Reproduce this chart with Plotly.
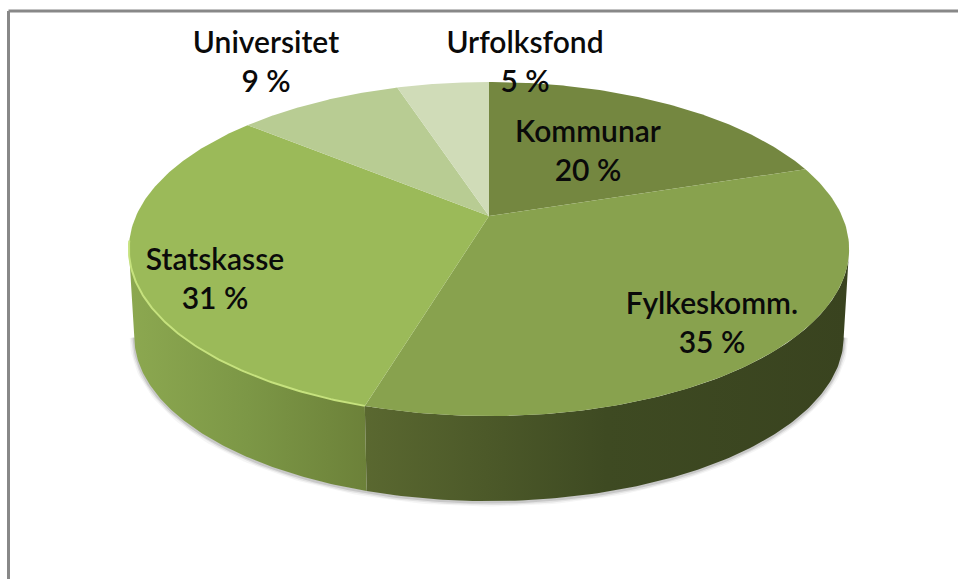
import numpy as np
import plotly.graph_objects as go

# ---- data ----
categories = ["Kommunar", "Fylkeskomm.", "Statskasse", "Universitet", "Urfolksfond"]
values = [20.0, 34.6, 31.4, 9.0, 5.0]
slice_colors = ["#748740", "#88A24E", "#9BBA59", "#B8CC93", "#D0DCB8"]
label_x = [588, 712, 215, 266, 525]
label_y = [134, 306, 262, 45, 45]

# ---- pie projection (screen pixels) ----
CX, CY = 489, 216
A, B, K = 160.5, 353.0, 0.198
SCALE_BOTTOM, CY_BOTTOM = 0.985, 304
LINE_GAP = 39


def project(theta, cy=CY, s=1.0):
    u, v = np.sin(theta), np.cos(theta)
    w = 1 + K * v
    return CX + s * B * u / w, cy - s * A * v / w


def rim(t0, t1, n=120, **kw):
    return project(np.linspace(t0, t1, n), **kw)


def wall(t0, t1, stops, name):
    xt, yt = rim(t0, t1)
    xb, yb = rim(t0, t1, cy=CY_BOTTOM, s=SCALE_BOTTOM)
    return go.Scatter(
        x=np.r_[xt, xb[::-1]], y=np.r_[yt, yb[::-1]],
        mode="lines", line=dict(width=0), fill="toself", name=name,
        fillcolor=stops[0][1],
        fillgradient=dict(type="horizontal", colorscale=stops),
        hoverinfo="skip",
    )


fracs = np.cumsum([0] + values) / sum(values)
angles = 2 * np.pi * fracs
side_l = 2 * np.pi - np.arccos(-K)
side_r = np.arccos(-K)
split = angles[2]

fig = go.Figure()

# soft shadow below the body
tt = np.linspace(side_r, side_l, 160)
for width, alpha in [(9, 0.05), (6, 0.09), (3, 0.16)]:
    xs, ys = project(tt, cy=CY_BOTTOM + 1, s=SCALE_BOTTOM)
    fig.add_trace(go.Scatter(x=xs, y=ys, mode="lines", hoverinfo="skip",
                             line=dict(color=f"rgba(60,60,60,{alpha})", width=width)))

# side walls
fig.add_trace(wall(split, side_l, [[0, "#8CA850"], [0.5, "#7C9746"], [1, "#6C8139"]], "wall-left"))
fig.add_trace(wall(side_r, split, [[0, "#5A6830"], [0.5, "#3E4A22"], [1, "#39431F"]], "wall-right"))

# top slices
for i, (name, col) in enumerate(zip(categories, slice_colors)):
    xr, yr = rim(angles[i], angles[i + 1])
    fig.add_trace(go.Scatter(
        x=np.r_[CX, xr, CX], y=np.r_[CY, yr, CY], mode="lines",
        line=dict(width=0), fill="toself", fillcolor=col, name=name,
        hoverinfo="name",
    ))

# rim highlight
xh, yh = rim(split, side_l + 0.05)
fig.add_trace(go.Scatter(x=xh, y=yh, mode="lines", hoverinfo="skip",
                         line=dict(color="#C6E27E", width=2)))

# labels
for name, val, x, y in zip(categories, values, label_x, label_y):
    font = dict(family="Lato", size=30, color="#0A0A0A", weight=600)
    fig.add_trace(go.Scatter(x=[x], y=[y], mode="text", hoverinfo="skip", text=[name],
                             textposition="middle center", textfont=font))
    fig.add_trace(go.Scatter(x=[x], y=[y + LINE_GAP], mode="text", hoverinfo="skip",
                             text=[f"{round(val)} %"],
                             textposition="middle center", textfont=font))

fig.update_layout(
    width=958, height=579, autosize=False, showlegend=False,
    margin=dict(l=0, r=0, t=0, b=0),
    paper_bgcolor="white", plot_bgcolor="white",
    xaxis=dict(range=[0, 958], visible=False, fixedrange=True),
    yaxis=dict(range=[579, 0], visible=False, fixedrange=True),
    shapes=[
        dict(type="line", xref="x", yref="y", x0=8.5, y0=11, x1=958, y1=11,
             line=dict(color="#888888", width=3)),
        dict(type="line", xref="x", yref="y", x0=8.5, y0=11, x1=8.5, y1=579,
             line=dict(color="#888888", width=3)),
    ],
)
fig.write_html("out.html", config={"displayModeBar": False},
               post_script="document.body.style.margin='0';")
